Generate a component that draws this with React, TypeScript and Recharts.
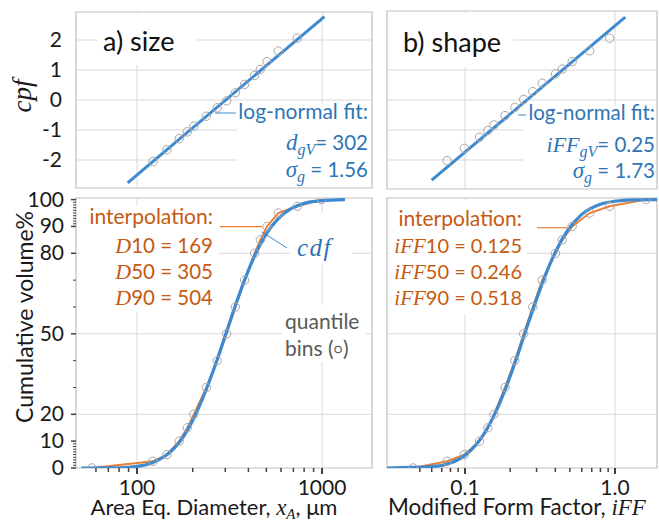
import React from 'react'
import { ComposedChart, Line, Scatter, XAxis, YAxis, ReferenceLine, ReferenceArea } from 'recharts'

const SANS = 'Lato, "Open Sans", sans-serif'
const SERIF = '"Liberation Serif", "DejaVu Serif", serif'
const BLUE = '#3E8AD0'
const BLUE_TEXT = '#2E75B6'
const ORANGE = '#EE7D31'
const ORANGE_TEXT = '#C55A11'
const GREY = '#A6A6A6'
const GRID = '#D9D9D9'
const BOX = '#BFBFBF'

// quantile bins (cumulative volume %)
const pctBins = [0, 2.5, 5, 10, 15, 20, 30, 40, 50, 60, 70, 80, 85, 90, 95, 97.5, 100]

// a) size
const sizeBinX = [57, 122, 145, 169, 187, 203, 237, 271, 305, 340, 382, 432, 464, 504, 580, 735, 995]
const sizeBinCpf = [-2.05, -1.66, -1.29, -1.06, -0.87, -0.54, -0.26, -0.03, 0.24, 0.52, 0.82, 1.02, 1.28, 1.63, 2.06]
const sizeFitX = [89, 1030]
const sizeFitCpf = [-2.76, 2.78]
const sizeCdfX = [50, 80, 100, 120, 140, 160, 180, 200, 230, 260, 300, 340, 380, 430, 500, 580, 680, 800, 1000, 1330]
const sizeCdfPct = [0, 0.1, 0.6, 1.9, 4.2, 7.6, 12.2, 17.7, 27.1, 36.8, 49.4, 60.5, 69.7, 78.7, 87.2, 92.9, 96.6, 98.6, 99.6, 100]

// b) shape
const shapeBinX = [0.045, 0.076, 0.099, 0.125, 0.142, 0.156, 0.185, 0.215, 0.246, 0.283, 0.327, 0.401, 0.445, 0.518, 0.678, 0.92, 1.61]
const shapeBinCpf = [-2.02, -1.61, -1.24, -1.02, -0.83, -0.52, -0.24, 0.02, 0.28, 0.56, 0.87, 1.03, 1.28, 1.64, 2.06]
const shapeFitX = [0.06, 1.17]
const shapeFitCpf = [-2.67, 2.76]
const shapeCdfX = [0.03, 0.06, 0.08, 0.1, 0.12, 0.14, 0.16, 0.19, 0.22, 0.25, 0.29, 0.34, 0.4, 0.48, 0.6, 0.8, 1.0, 1.3, 2.0]
const shapeCdfPct = [0, 0.5, 1.9, 4.7, 9.0, 14.5, 20.8, 30.8, 40.7, 50, 60.6, 71.2, 80.4, 88.3, 94.5, 98.3, 99.4, 99.9, 100]

// ticks
const cpfTicks = [-2, -1, 0, 1, 2]
const pctMajor = [0, 10, 20, 50, 80, 90, 100]
const pctMinor = [1, 2, 3, 4, 5, 6, 7, 8, 9, 30, 40, 60, 70, 91, 92, 93, 94, 95, 96, 97, 98, 99]
const pctGrid = [20, 50, 80]
const sizeMajor = [100, 1000]
const sizeMinor = [60, 70, 80, 90, 200, 300, 400, 500, 600, 700, 800, 900]
const sizeLabels = ['100', '1000']
const shapeMajor = [0.1, 1.0]
const shapeMinor = [0.05, 0.06, 0.07, 0.08, 0.09, 0.2, 0.3, 0.4, 0.5, 0.6, 0.7, 0.8, 0.9]
const shapeLabels = ['0.1', '1.0']

const SIZE_DOMAIN = [46.8, 1862]
const SHAPE_DOMAIN = [0.0302, 1.905]
const PCT_DOMAIN = [0, 100.6]

const zip = (xs: number[], ys: number[]) => xs.map((x, i) => ({ x, y: ys[i] }))

const sizeBins = zip(sizeBinX, pctBins)
const sizeProbit = zip(sizeBinX.slice(1, -1), sizeBinCpf)
const sizeFit = zip(sizeFitX, sizeFitCpf)
const sizeCdf = zip(sizeCdfX, sizeCdfPct)
const shapeBins = zip(shapeBinX, pctBins)
const shapeProbit = zip(shapeBinX.slice(1, -1), shapeBinCpf)
const shapeFit = zip(shapeFitX, shapeFitCpf)
const shapeCdf = zip(shapeCdfX, shapeCdfPct)

const ring = (p: any) => <circle cx={p.cx} cy={p.cy} r={4.2} fill="none" stroke={GREY} strokeWidth={1} />

const cpfTick = (p: any) => (
  <text x={p.x - 14} y={p.y + 7} textAnchor="end" fontSize={21} fill="#1a1a1a" fontFamily={SANS}>
    {p.payload.value}
  </text>
)

const pctTick = (p: any) => {
  const major = pctMajor.includes(p.payload.value)
  return (
    <g>
      <line x1={p.x - (major ? 5 : 3)} x2={p.x} y1={p.y} y2={p.y} stroke="#404040" strokeWidth={major ? 1.5 : 1} />
      {major && (
        <text x={p.x - 12} y={p.y + 7} textAnchor="end" fontSize={21} fill="#1a1a1a" fontFamily={SANS}>
          {p.payload.value}
        </text>
      )}
    </g>
  )
}

const makeXTick = (majors: number[], labels: string[]) => (p: any) => {
  const idx = majors.findIndex((m) => Math.abs(m - p.payload.value) < 1e-9)
  const major = idx >= 0
  return (
    <g>
      <line x1={p.x} x2={p.x} y1={p.y} y2={p.y + (major ? 6 : 4)} stroke="#404040" strokeWidth={major ? 2 : 1.5} />
      {major && (
        <text x={p.x} y={p.y + 27} textAnchor="middle" fontSize={21} fill="#1a1a1a" fontFamily={SANS}>
          {labels[idx]}
        </text>
      )}
    </g>
  )
}

const sizeTick = makeXTick(sizeMajor, sizeLabels)
const shapeTick = makeXTick(shapeMajor, shapeLabels)

const ProbitPanel = ({ left, width, margin, xDomain, yDomain, gridX, pts, fit, showY }: any) => (
  <div style={{ position: 'absolute', left, top: 0 }}>
    <ComposedChart width={width} height={195} margin={margin}>
      <XAxis type="number" dataKey="x" scale="log" domain={xDomain} allowDataOverflow hide />
      {showY ? (
        <YAxis type="number" dataKey="y" domain={yDomain} allowDataOverflow ticks={cpfTicks} interval={0}
          width={76} tickSize={0} tickMargin={0} axisLine={false} tickLine={false} tick={cpfTick} />
      ) : (
        <YAxis type="number" dataKey="y" domain={yDomain} allowDataOverflow hide />
      )}
      {cpfTicks.map((v) => <ReferenceLine key={'h' + v} y={v} stroke={GRID} strokeWidth={1} />)}
      {gridX.map((v: number) => <ReferenceLine key={'v' + v} x={v} stroke={GRID} strokeWidth={1} />)}
      <ReferenceArea x1={xDomain[0]} x2={xDomain[1]} y1={yDomain[0]} y2={yDomain[1]} fill="none" stroke={BOX} strokeWidth={1.2} ifOverflow="visible" />
      <Line data={fit} dataKey="y" type="linear" stroke={BLUE} strokeWidth={3} dot={false} isAnimationActive={false} />
      <Scatter data={pts} dataKey="y" shape={ring} isAnimationActive={false} />
    </ComposedChart>
  </div>
)

const CdfPanel = ({ left, width, margin, xDomain, gridX, ticks, tick, bins, cdf, showY }: any) => (
  <div style={{ position: 'absolute', left, top: 180 }}>
    <ComposedChart width={width} height={340} margin={margin}>
      <XAxis type="number" dataKey="x" scale="log" domain={xDomain} allowDataOverflow ticks={ticks} interval={0}
        height={30} tickSize={0} tickMargin={0} axisLine={false} tickLine={false} tick={tick} />
      {showY ? (
        <YAxis type="number" dataKey="y" domain={PCT_DOMAIN} allowDataOverflow ticks={[...pctMajor, ...pctMinor]} interval={0}
          width={76} tickSize={0} tickMargin={0} axisLine={false} tickLine={false} tick={pctTick} />
      ) : (
        <YAxis type="number" dataKey="y" domain={PCT_DOMAIN} allowDataOverflow hide />
      )}
      {pctGrid.map((v) => <ReferenceLine key={'h' + v} y={v} stroke={GRID} strokeWidth={1} />)}
      {gridX.map((v: number) => <ReferenceLine key={'v' + v} x={v} stroke={GRID} strokeWidth={1} />)}
      <ReferenceArea x1={xDomain[0]} x2={xDomain[1]} y1={PCT_DOMAIN[0]} y2={PCT_DOMAIN[1]} fill="none" stroke={BOX} strokeWidth={1.2} ifOverflow="visible" />
      <Line data={bins} dataKey="y" type="linear" stroke={ORANGE} strokeWidth={2} dot={false} isAnimationActive={false} />
      <Line data={cdf} dataKey="y" type="monotone" stroke={BLUE} strokeWidth={3.2} dot={false} isAnimationActive={false} />
      <Scatter data={bins} dataKey="y" shape={ring} isAnimationActive={false} />
    </ComposedChart>
  </div>
)

const it = { fontFamily: SERIF, fontStyle: 'italic' } as const

const Annotations = () => (
  <svg width={659} height={520} style={{ position: 'absolute', left: 0, top: 0, pointerEvents: 'none' }}>
    {/* white backgrounds of the text boxes */}
    <rect x={97} y={14} width={100} height={51} fill="#fff" />
    <rect x={237} y={104} width={133} height={83} fill="#fff" />
    <rect x={390} y={13} width={123} height={54} fill="#fff" />
    <rect x={524} y={106} width={132} height={82} fill="#fff" />
    <rect x={80} y={205} width={138} height={107} fill="#fff" />
    <rect x={290} y={213} width={62} height={52} fill="#fff" />
    <rect x={282} y={305} width={84} height={57} fill="#fff" />
    <rect x={390} y={200} width={137} height={115} fill="#fff" />

    {/* panel titles */}
    <text x={103} y={51} fontSize={27} fill="#111" fontFamily={SANS}>a) size</text>
    <text x={403} y={52} fontSize={27} fill="#111" fontFamily={SANS}>b) shape</text>

    {/* log-normal fit, size */}
    <line x1={215} y1={113} x2={236} y2={113} stroke={BLUE} strokeWidth={1} />
    <g fontFamily={SANS} fontSize={20.5} fill={BLUE_TEXT} textAnchor="end">
      <text x={368} y={119} fontSize={21}>log-normal fit:</text>
      <text x={368} y={150}>
        <tspan {...it} fontSize={23}>d</tspan>
        <tspan {...it} fontSize={16} dy={5}>gV</tspan>
        <tspan dy={-5}>= 302</tspan>
      </text>
      <text x={368} y={177}>
        <tspan {...it} fontSize={23}>σ</tspan>
        <tspan {...it} fontSize={16} dy={5}>g</tspan>
        <tspan dy={-5}> = 1.56</tspan>
      </text>
    </g>

    {/* log-normal fit, shape */}
    <line x1={518} y1={115} x2={526} y2={115} stroke={BLUE} strokeWidth={1} />
    <g fontFamily={SANS} fontSize={20.5} fill={BLUE_TEXT} textAnchor="end">
      <text x={655} y={120} fontSize={20.5}>log-normal fit:</text>
      <text x={655} y={152}>
        <tspan {...it} fontSize={22}>iFF</tspan>
        <tspan {...it} fontSize={16} dy={5}>gV</tspan>
        <tspan dy={-5}>= 0.25</tspan>
      </text>
      <text x={655} y={178}>
        <tspan {...it} fontSize={23}>σ</tspan>
        <tspan {...it} fontSize={16} dy={5}>g</tspan>
        <tspan dy={-5}> = 1.73</tspan>
      </text>
    </g>

    {/* interpolation, size */}
    <line x1={220} y1={226.7} x2={262} y2={226.7} stroke={ORANGE} strokeWidth={1.2} />
    <g fontFamily={SANS} fontSize={20.5} fill={ORANGE_TEXT} textAnchor="end">
      <text x={213} y={224} fontSize={21}>interpolation:</text>
      <text x={213} y={253}><tspan {...it} fontSize={22}>D</tspan>10 = 169</text>
      <text x={213} y={279}><tspan {...it} fontSize={22}>D</tspan>50 = 305</text>
      <text x={213} y={305}><tspan {...it} fontSize={22}>D</tspan>90 = 504</text>
    </g>

    {/* cdf label */}
    <line x1={262} y1={232} x2={287} y2={248} stroke={BLUE} strokeWidth={1} />
    <text x={297} y={256} fontSize={25} fill={BLUE_TEXT} {...it} letterSpacing={1.5}>cdf</text>

    {/* quantile bins */}
    <g fontFamily={SANS} fontSize={21} fill="#595959">
      <text x={285} y={329}>quantile</text>
      <text x={285} y={356}>bins (<tspan fontSize={14} dy={-2}>○</tspan><tspan dy={2}>)</tspan></text>
    </g>

    {/* interpolation, shape */}
    <line x1={537} y1={227.7} x2={567} y2={227.7} stroke={ORANGE} strokeWidth={1.2} />
    <g fontFamily={SANS} fontSize={20} fill={ORANGE_TEXT} textAnchor="end">
      <text x={522} y={226} fontSize={21}>interpolation:</text>
      <text x={522} y={253}><tspan {...it} fontSize={21}>iFF</tspan>10 = 0.125</text>
      <text x={522} y={279}><tspan {...it} fontSize={21}>iFF</tspan>50 = 0.246</text>
      <text x={522} y={305}><tspan {...it} fontSize={21}>iFF</tspan>90 = 0.518</text>
    </g>

    {/* axis titles */}
    <text transform="translate(31,96) rotate(-90)" textAnchor="middle" fontSize={27} fill="#1a1a1a" {...it}>cpf</text>
    <text transform="translate(33,317) rotate(-90)" textAnchor="middle" fontSize={23} fill="#1a1a1a" fontFamily={SANS}>Cumulative volume%</text>
    <text x={214} y={515} textAnchor="middle" fontSize={22} fill="#1a1a1a" fontFamily={SANS}>
      Area Eq. Diameter, <tspan {...it} fontSize={23}>x</tspan><tspan {...it} fontSize={15} dy={3.5}>A</tspan><tspan dy={-3.5}>, μm</tspan>
    </text>
    <text x={517} y={515} textAnchor="middle" fontSize={22.5} fill="#1a1a1a" fontFamily={SANS}>
      Modified Form Factor, <tspan {...it} fontSize={23}>iFF</tspan>
    </text>
  </svg>
)

export default function App() {
  return (
    <div style={{ position: 'absolute', left: 0, top: 0, width: 659, height: 520, background: '#fff', fontFamily: SANS }}>
      <ProbitPanel left={0} width={380} margin={{ top: 12, right: 8, bottom: 7, left: 0 }}
        xDomain={SIZE_DOMAIN} yDomain={[-2.933, 2.933]} gridX={sizeMajor} pts={sizeProbit} fit={sizeFit} showY />
      <ProbitPanel left={380} width={279} margin={{ top: 11, right: 2, bottom: 6, left: 7 }}
        xDomain={SHAPE_DOMAIN} yDomain={[-2.967, 2.967]} gridX={shapeMajor} pts={shapeProbit} fit={shapeFit} showY={false} />
      <CdfPanel left={0} width={380} margin={{ top: 18, right: 8, bottom: 22, left: 0 }}
        xDomain={SIZE_DOMAIN} gridX={sizeMajor} ticks={[...sizeMajor, ...sizeMinor]} tick={sizeTick}
        bins={sizeBins} cdf={sizeCdf} showY />
      <CdfPanel left={380} width={279} margin={{ top: 18, right: 2, bottom: 22, left: 7 }}
        xDomain={SHAPE_DOMAIN} gridX={shapeMajor} ticks={[...shapeMajor, ...shapeMinor]} tick={shapeTick}
        bins={shapeBins} cdf={shapeCdf} showY={false} />
      <Annotations />
    </div>
  )
}
